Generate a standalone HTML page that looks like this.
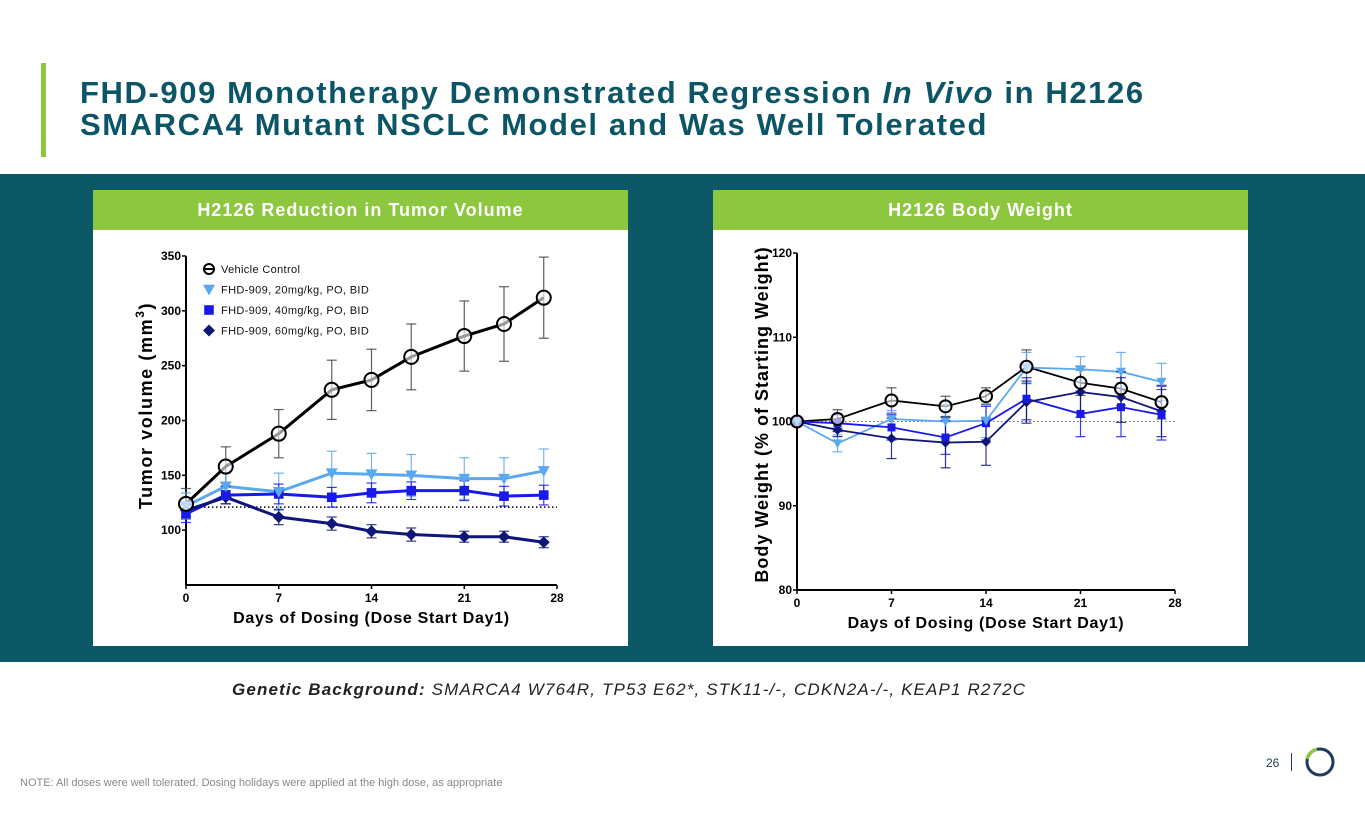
<!DOCTYPE html>
<html><head><meta charset="utf-8"><style>
body{margin:0;width:1365px;height:829px;background:#fff;font-family:"Liberation Sans",sans-serif;overflow:hidden;position:relative}
.abs{position:absolute}
</style></head><body>
<div class="abs" style="left:41px;top:63px;width:5px;height:94px;background:#8dc63f"></div>
<div class="abs" style="left:80px;top:77px;font-size:31px;font-weight:bold;color:#0b5566;line-height:32px;letter-spacing:1.6px;white-space:nowrap">FHD-909 Monotherapy Demonstrated Regression <i>In Vivo</i> in H2126<br>SMARCA4 Mutant NSCLC Model and Was Well Tolerated</div>
<div class="abs" style="left:0;top:174px;width:1365px;height:488px;background:#0d5867"></div>
<div class="abs" style="left:93px;top:190px;width:535px;height:456px;background:#fff"></div>
<div class="abs" style="left:93px;top:190px;width:535px;height:40px;background:#8dc63f;color:#fff;font-weight:bold;font-size:18px;letter-spacing:1px;line-height:40px;text-align:center">H2126 Reduction in Tumor Volume</div>
<div class="abs" style="left:713px;top:190px;width:535px;height:456px;background:#fff"></div>
<div class="abs" style="left:713px;top:190px;width:535px;height:40px;background:#8dc63f;color:#fff;font-weight:bold;font-size:18px;letter-spacing:1px;line-height:40px;text-align:center">H2126 Body Weight</div>
<div class="abs" style="left:232px;top:680px;font-size:17px;font-style:italic;color:#222;letter-spacing:1.15px;white-space:nowrap"><b>Genetic Background:</b> SMARCA4 W764R, TP53 E62*, STK11-/-, CDKN2A-/-, KEAP1 R272C</div>
<div class="abs" style="left:20px;top:777px;font-size:11px;color:#888">NOTE: All doses were well tolerated. Dosing holidays were applied at the high dose, as appropriate</div>
<div class="abs" style="left:1266px;top:756px;font-size:12px;color:#1f3a5a">26</div>
<div class="abs" style="left:1291px;top:753px;width:1px;height:18px;background:#1f3a5a"></div>
<svg class="abs" style="left:1300px;top:743px" width="40" height="40">
<circle cx="20" cy="19" r="13" fill="none" stroke="#1f3a5a" stroke-width="3"/>
<path d="M 7 16 A 13 13 0 0 1 17 6.3" fill="none" stroke="#8dc63f" stroke-width="3.5"/></svg>
<svg id="chart" class="abs" style="left:0;top:0" width="1365" height="829" font-family="Liberation Sans, sans-serif"></svg>
<script>
const days=[0,3,7,11,14,17,21,24,27];
const tvVehicle=[124,158,188,228,237,258,277,288,312];
const tvVehicleErr=[14,18,22,27,28,30,32,34,37];
const tv20=[122,140,135,152,151,150,147,147,154];
const tv20Err=[12,12,17,20,19,19,19,19,20];
const tv40=[115,132,133,130,134,136,136,131,132];
const tv40Err=[8,8,9,9,9,8,9,9,9];
const tv60=[118,130,112,106,99,96,94,94,89];
const tv60Err=[6,6,7,6,6,6,5,5,5];
const bwVehicle=[100,100.3,102.5,101.8,103,106.5,104.6,103.9,102.3];
const bwVehicleErr=[0.2,1.1,1.5,1.2,1,2,1.5,2,2];
const bw20=[100,97.4,100.3,100,100.1,106.4,106.2,105.9,104.7];
const bw20Err=[0.2,1,1,2,2,1.8,1.5,2.3,2.2];
const bw40=[100,99.8,99.3,98.1,99.8,102.7,100.9,101.7,100.8];
const bw40Err=[0.2,1,1.5,2,2,2.5,2.7,3.5,3];
const bw60=[100,99,98,97.5,97.6,102.3,103.5,102.9,101.2];
const bw60Err=[0.2,0.8,2.4,3,2.8,2.5,3,3,3];
const xTicks=[0,7,14,21,28];
const tvTicks=[100,150,200,250,300,350];
const bwTicks=[80,90,100,110,120];
const legendLabels=["Vehicle Control","FHD-909, 20mg/kg, PO, BID","FHD-909, 40mg/kg, PO, BID","FHD-909, 60mg/kg, PO, BID"];
const colors=["#000","#5aa8ef","#1a1ae8","#0e1677"];
const svg=document.getElementById('chart');
const NS="http://www.w3.org/2000/svg";
function mk(tag,attrs,parent){const e=document.createElementNS(NS,tag);for(const k in attrs)e.setAttribute(k,attrs[k]);(parent||svg).appendChild(e);return e;}
function marker(kind,x,y,c,g,s){
  let e;
  if(kind===0){e=mk('circle',{cx:x,cy:y,r:s,fill:'#fff','fill-opacity':0.6,stroke:c,'stroke-width':2},g);}
  else if(kind===1){e=mk('polygon',{points:`${x-s},${y-s*0.8} ${x+s},${y-s*0.8} ${x},${y+s}`,fill:c},g);}
  else if(kind===2){e=mk('rect',{x:x-s*0.8,y:y-s*0.8,width:s*1.6,height:s*1.6,fill:c},g);}
  else {e=mk('polygon',{points:`${x},${y-s} ${x+s},${y} ${x},${y+s} ${x-s},${y}`,fill:c},g);}
  return e;
}
function chart(cfg){
  const xs=d=>cfg.x0+(cfg.x1-cfg.x0)*d/28;
  const ys=v=>cfg.yb-(cfg.yb-cfg.yt)*(v-cfg.ymin)/(cfg.ymax-cfg.ymin);
  const g=mk('g',{});
  
  
  mk('line',{x1:cfg.x0,y1:cfg.yt,x2:cfg.x0,y2:cfg.yb,stroke:'#000','stroke-width':2},g);
  mk('line',{x1:cfg.x0,y1:cfg.yb,x2:cfg.x1,y2:cfg.yb,stroke:'#000','stroke-width':2},g);
  xTicks.forEach(t=>{mk('line',{x1:xs(t),y1:cfg.yb,x2:xs(t),y2:cfg.yb+4,stroke:'#000','stroke-width':1.5},g);
    const tx=mk('text',{x:xs(t),y:cfg.yb+17,'text-anchor':'middle','font-size':12,'font-weight':'bold'},g);tx.textContent=t;
    });
  cfg.ticks.forEach(t=>{mk('line',{x1:cfg.x0-4,y1:ys(t),x2:cfg.x0,y2:ys(t),stroke:'#000','stroke-width':1.5},g);
    const tx=mk('text',{x:cfg.x0-5,y:ys(t)+4,'text-anchor':'end','font-size':12,'font-weight':'bold'},g);tx.textContent=t;
    });
  mk('line',{x1:cfg.dx0,y1:ys(cfg.ref),x2:cfg.x1,y2:ys(cfg.ref),stroke:cfg.refColor,'stroke-width':cfg.refW,'stroke-dasharray':'1.5,2.5'},g);
  const xt=mk('text',{x:(cfg.x0+cfg.x1)/2,y:cfg.yb+38,'text-anchor':'middle','font-size':16,'font-weight':'bold','letter-spacing':0.7},g);
  xt.textContent='Days of Dosing (Dose Start Day1)';
  
  const yt=mk('text',{x:0,y:0,'text-anchor':'middle','font-size':cfg.yTitleSize,'font-weight':'bold','letter-spacing':cfg.yls,transform:`translate(${cfg.ytx},${(cfg.yt+cfg.yb)/2+cfg.ytdy}) rotate(-90)`},g);
  yt.innerHTML=cfg.yTitle;
  
  cfg.series.forEach((s,i)=>{
    const sg=mk('g',{},g);
    
    const ec=i===0?'#444':colors[i];
    days.forEach((d,j)=>{const x=xs(d),y1=ys(s.v[j]+s.e[j]),y2=ys(s.v[j]-s.e[j]);
      mk('line',{x1:x,y1:y1,x2:x,y2:y2,stroke:ec,'stroke-width':1.2,opacity:0.85},sg);
      mk('line',{x1:x-5,y1:y1,x2:x+5,y2:y1,stroke:ec,'stroke-width':1.2,opacity:0.85},sg);
      mk('line',{x1:x-5,y1:y2,x2:x+5,y2:y2,stroke:ec,'stroke-width':1.2,opacity:0.85},sg);});
    mk('polyline',{points:days.map((d,j)=>xs(d)+','+ys(s.v[j])).join(' '),fill:'none',stroke:colors[i],'stroke-width':cfg.lw},sg);
  });
  [3,2,1,0].forEach(i=>{const s=cfg.series[i];days.forEach((d,j)=>{
    const m=marker(i,xs(d),ys(s.v[j]),colors[i],g,i===0?cfg.ms+1:cfg.ms);
    });});
}
chart({name:'tumor-volume-chart',x0:186,x1:557,yt:256,yb:585,ymin:50,ymax:350,ticks:tvTicks,ref:121,dx0:200,refColor:'#000',refW:1.5,
  yTitle:'Tumor volume (mm<tspan dy="-8" font-size="12">3</tspan><tspan dy="8">)</tspan>',yTitleSize:18,yls:1.6,ytx:152,ytdy:-15,lw:3,ms:6,
  series:[{v:tvVehicle,e:tvVehicleErr},{v:tv20,e:tv20Err},{v:tv40,e:tv40Err},{v:tv60,e:tv60Err}]});
chart({name:'body-weight-chart',x0:797,x1:1175,yt:253,yb:590,ymin:80,ymax:120,ticks:bwTicks,ref:100,dx0:797,refColor:'#666',refW:1,
  yTitle:'Body Weight (% of Starting Weight)',yTitleSize:18,yls:1,ytx:768,ytdy:-7,lw:1.8,ms:5,
  series:[{v:bwVehicle,e:bwVehicleErr},{v:bw20,e:bw20Err},{v:bw40,e:bw40Err},{v:bw60,e:bw60Err}]});
const lg=mk('g',{});


legendLabels.forEach((l,i)=>{const y=269+i*20.5;
  const m=marker(i,209,y,colors[i],lg,i===0?5:6);
  if(i===0)mk('line',{x1:204,y1:y,x2:214,y2:y,stroke:'#000','stroke-width':2},lg);
  const t=mk('text',{x:221,y:y+4,'font-size':11,fill:'#111','letter-spacing':0.35},lg);t.textContent=l;
  });
</script>
</body></html>
